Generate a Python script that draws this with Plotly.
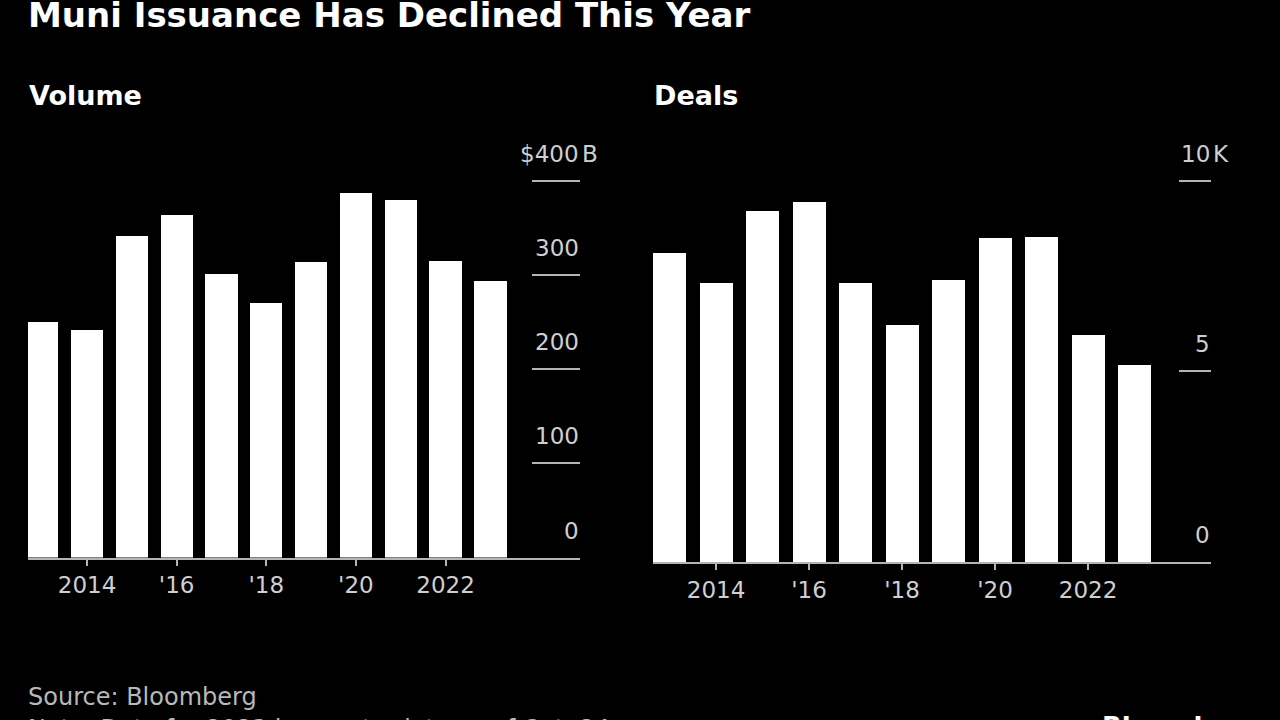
import plotly.graph_objects as go

W, H = 1280, 720

years = list(range(2013, 2024))
volume = [250, 242, 341, 364, 301, 270, 314, 387, 379, 315, 293]   # $B
deals = [8.12, 7.31, 9.21, 9.46, 7.31, 6.21, 7.40, 8.50, 8.54, 5.97, 5.17]  # thousands

x_tickvals = [2014, 2016, 2018, 2020, 2022]
x_ticktext = ["2014", "'16", "'18", "'20", "2022"]

vol_ticks = [0, 100, 200, 300, 400]
vol_labels = ["0", "100", "200", "300", "$400"]
vol_suffix = "B"
deal_ticks = [0, 5, 10]
deal_labels = ["0", "5", "10"]
deal_suffix = "K"

BG = "#000000"
BAR = "#ffffff"
LINE = "#b4b4b4"
LABEL = "#cfcfcf"
FONT = "DejaVu Sans"


def px_x(p):
    return p / W


def px_y(p):
    return 1 - p / H


fig = go.Figure()
fig.add_trace(go.Bar(x=years, y=volume, marker=dict(color=BAR, line=dict(width=0)),
                     width=0.72, xaxis="x", yaxis="y", showlegend=False))
fig.add_trace(go.Bar(x=years, y=deals, marker=dict(color=BAR, line=dict(width=0)),
                     width=0.71, xaxis="x2", yaxis="y2", showlegend=False))

xcommon = dict(showgrid=False, zeroline=False, showline=True, linecolor=LINE, linewidth=2,
               ticks="outside", ticklen=6, tickwidth=2, tickcolor=LINE,
               tickvals=x_tickvals, ticktext=x_ticktext,
               tickfont=dict(family=FONT, size=23, color=LABEL), ticklabelstandoff=0,
               fixedrange=True)
ycommon = dict(showgrid=False, zeroline=False, showline=False, side="right",
               ticks="inside", tickwidth=2, tickcolor=LINE, showticklabels=False,
               fixedrange=True)

fig.update_layout(
    width=W, height=H,
    paper_bgcolor=BG, plot_bgcolor=BG,
    margin=dict(l=0, r=0, t=0, b=0),
    bargap=0,
    xaxis=dict(domain=[px_x(28), px_x(580)], range=[2012.683, 2025.0], anchor="y", **xcommon),
    yaxis=dict(domain=[px_y(557.5), px_y(152.4)], range=[0, 430], anchor="x",
               tickvals=vol_ticks, ticklen=48, **ycommon),
    xaxis2=dict(domain=[px_x(653), px_x(1211)], range=[2012.645, 2024.645], anchor="y2", **xcommon),
    yaxis2=dict(domain=[px_y(562), px_y(150.5)], range=[0, 10.8], anchor="x2",
                tickvals=deal_ticks, ticklen=32, **ycommon),
)

ann = []
# y tick labels, sitting above their tick lines
for xr, yr, ticks, labels, suffix in [("x domain", "y", vol_ticks, vol_labels, vol_suffix),
                                       ("x2 domain", "y2", deal_ticks, deal_labels, deal_suffix)]:
    for i, (v, lab) in enumerate(zip(ticks, labels)):
        ann.append(dict(xref=xr, yref=yr, x=1, y=v, text=lab, showarrow=False,
                        xanchor="right", yanchor="middle", yshift=27, xshift=1,
                        font=dict(family=FONT, size=23, color=LABEL)))
        if i == len(ticks) - 1:
            ann.append(dict(xref=xr, yref=yr, x=1, y=v, text=suffix, showarrow=False,
                            xanchor="left", yanchor="middle", yshift=27, xshift=0,
                            font=dict(family=FONT, size=23, color=LABEL)))

# titles and notes
ann += [
    dict(xref="paper", yref="paper", x=px_x(26), y=px_y(15), text="<b>Muni Issuance Has Declined This Year</b>",
         showarrow=False, xanchor="left", yanchor="middle", font=dict(family=FONT, size=34, color="#ffffff")),
    dict(xref="paper", yref="paper", x=px_x(27), y=px_y(96), text="<b>Volume</b>",
         showarrow=False, xanchor="left", yanchor="middle", font=dict(family=FONT, size=27, color="#ffffff")),
    dict(xref="paper", yref="paper", x=px_x(652), y=px_y(96), text="<b>Deals</b>",
         showarrow=False, xanchor="left", yanchor="middle", font=dict(family=FONT, size=27, color="#ffffff")),
    dict(xref="paper", yref="paper", x=px_x(26), y=px_y(697), text="Source: Bloomberg",
         showarrow=False, xanchor="left", yanchor="middle", font=dict(family=FONT, size=24, color="#b8b8b8")),
    dict(xref="paper", yref="paper", x=px_x(26), y=px_y(729), text="Note: Data for 2023 is year-to-date as of Oct. 24",
         showarrow=False, xanchor="left", yanchor="middle", font=dict(family=FONT, size=24, color="#b8b8b8")),
    dict(xref="paper", yref="paper", x=px_x(1100), y=px_y(727), text="<b>Bloomberg</b>",
         showarrow=False, xanchor="left", yanchor="middle", font=dict(family=FONT, size=26, color="#ffffff")),
]
fig.update_layout(annotations=ann)

fig.write_html(
    "out.html",
    config={"displayModeBar": False, "staticPlot": True},
    post_script="document.body.style.margin='0';document.body.style.padding='0';"
                "document.body.style.background='#000';document.documentElement.style.overflow='hidden';",
)
